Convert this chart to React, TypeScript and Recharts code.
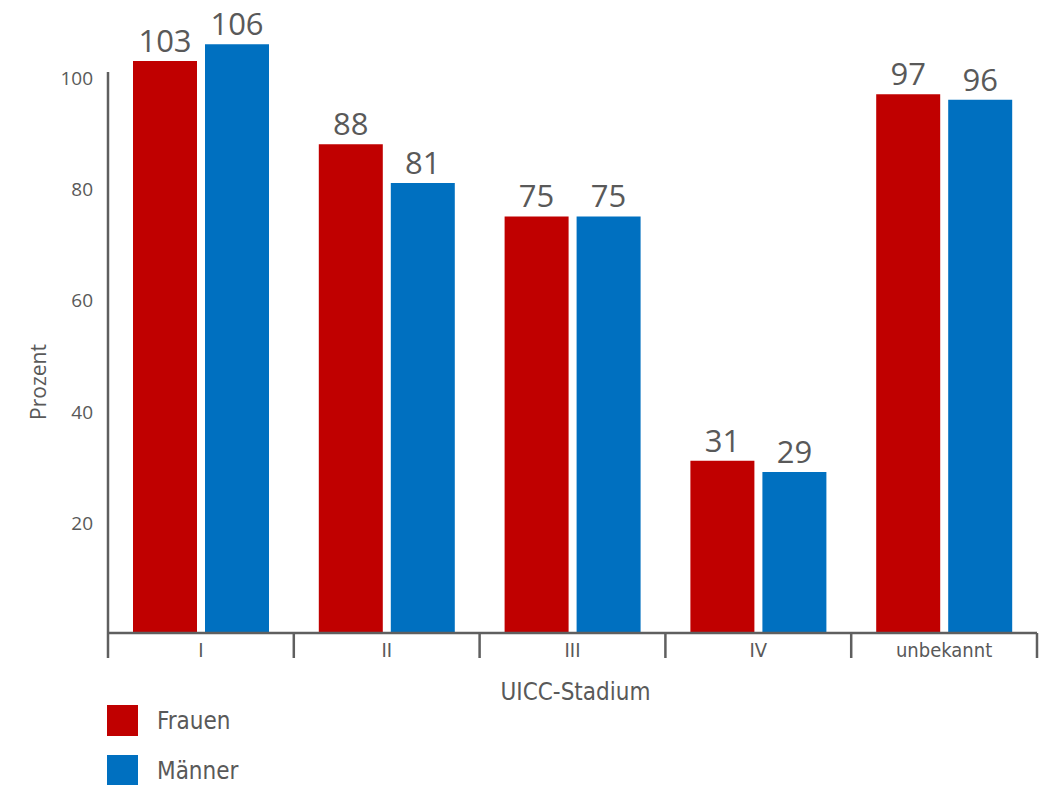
import { BarChart, Bar, XAxis, YAxis, Legend, LabelList, ReferenceLine } from 'recharts';

const stages = ['I', 'II', 'III', 'IV', 'unbekannt'];
const frauen = [103, 88, 75, 31, 97];
const maenner = [106, 81, 75, 29, 96];
const yTicks = [20, 40, 60, 80, 100];

const RED = '#c00000';
const BLUE = '#0070c0';
const TEXT = '#595959';
const AXIS = '#5f5f5f';
const SANS = '"Open Sans", sans-serif';
const COND = '"DejaVu Sans Condensed", "DejaVu Sans", sans-serif';

const W = 1051;
const H = 785;
const MARGIN = { top: 22, right: 14, bottom: 0, left: 0 };
const Y_AXIS_W = 108;
const BAND = (W - MARGIN.left - MARGIN.right - Y_AXIS_W) / stages.length;

const data = stages.map((stage, i) => ({ stage, frauen: frauen[i], maenner: maenner[i] }));

// category ticks: separators at band edges, label centered
const StageTick = (props: any) => {
  const { x, y, payload } = props;
  const last = payload.value === stages[stages.length - 1];
  return (
    <g>
      <line x1={x - BAND / 2} x2={x - BAND / 2} y1={y} y2={y + 25} stroke={AXIS} strokeWidth={2.5} />
      {last && <line x1={x + BAND / 2} x2={x + BAND / 2} y1={y} y2={y + 25} stroke={AXIS} strokeWidth={2.5} />}
      <text x={x} y={y + 24} textAnchor="middle" fill={TEXT} fontSize={20} fontFamily={COND}>
        {payload.value}
      </text>
    </g>
  );
};

const renderLegend = (props: any) => {
  const { payload = [] } = props;
  return (
    <div style={{ height: 80, paddingLeft: 107, fontFamily: COND }}>
      {payload.map((entry: any, i: number) => (
        <div key={entry.value} style={{ display: 'flex', alignItems: 'center', height: 31, marginBottom: i === 0 ? 19 : 0 }}>
          <span style={{ width: 31, height: 31, background: entry.color, display: 'inline-block' }} />
          <span style={{ marginLeft: 19, fontSize: 24, color: TEXT }}>{entry.value}</span>
        </div>
      ))}
    </div>
  );
};

const YLabel = () => (
  <text x={38} y={382} transform="rotate(-90 38 382)" textAnchor="middle" dominantBaseline="central" fill={TEXT} fontSize={21} fontFamily={SANS}>
    Prozent
  </text>
);

export default function App() {
  return (
    <div style={{ position: 'absolute', left: 0, top: 0, width: W, height: H, background: '#fff' }}>
      <BarChart width={W} height={H} data={data} margin={MARGIN} barSize={64} barGap={8}>
        <XAxis
          dataKey="stage"
          height={72}
          interval={0}
          axisLine={{ stroke: AXIS, strokeWidth: 2.5 }}
          tickLine={false}
          tickSize={0}
          tickMargin={0}
          tick={<StageTick />}
          label={{ value: 'UICC-Stadium', position: 'insideBottom', offset: 5, dx: 3, fill: TEXT, fontSize: 24, fontFamily: COND }}
        />
        <YAxis
          width={Y_AXIS_W}
          domain={[0, 110]}
          ticks={yTicks}
          axisLine={false}
          tickLine={false}
          tickSize={0}
          tickMargin={15}
          tick={{ fill: TEXT, fontSize: 19, fontFamily: SANS, dy: 1 }}
          label={{ content: <YLabel /> }}
        />
        <ReferenceLine
          segment={[{ x: 'I', y: 0 }, { x: 'I', y: 101 }]}
          position="start"
          stroke={AXIS}
          strokeWidth={2.5}
        />
        <Legend verticalAlign="bottom" align="left" content={renderLegend} />
        <Bar dataKey="frauen" name="Frauen" fill={RED} isAnimationActive={false}>
          <LabelList dataKey="frauen" position="top" offset={9} fill={TEXT} fontSize={31} fontFamily={SANS} />
        </Bar>
        <Bar dataKey="maenner" name="Männer" fill={BLUE} isAnimationActive={false}>
          <LabelList dataKey="maenner" position="top" offset={9} fill={TEXT} fontSize={31} fontFamily={SANS} />
        </Bar>
      </BarChart>
    </div>
  );
}
